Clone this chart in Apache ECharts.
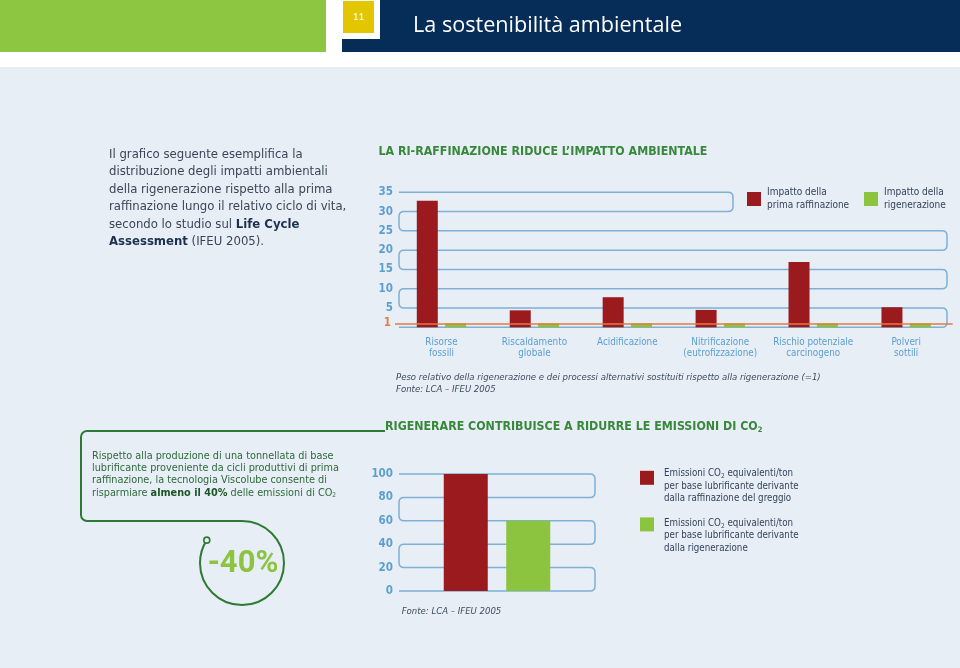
<!DOCTYPE html>
<html><head><meta charset="utf-8">
<script src="https://cdn.jsdelivr.net/npm/echarts@6/dist/echarts.min.js"></script>
<style>html,body{margin:0;padding:0;background:#fff}#c{width:960px;height:668px}</style>
</head><body><div id="c"></div>
<script>
// ---------- data ----------
const impactCategories = ['Risorse\nfossili', 'Riscaldamento\nglobale', 'Acidificazione', 'Nitrificazione\n(eutrofizzazione)', 'Rischio potenziale\ncarcinogeno', 'Polveri\nsottili'];
const impactSeriesNames = ['Impatto della\nprima raffinazione', 'Impatto della\nrigenerazione'];
const primaRaffinazione = [32.8, 4.4, 7.8, 4.5, 16.9, 5.2];
const rigenerazione = [1, 1, 1, 1, 1, 1];
const impactTicks = [0, 5, 10, 15, 20, 25, 30, 35];
const referenceLevel = 1;

const co2Category = ['Emissioni CO2'];
const co2SeriesNames = ['Emissioni CO2 equivalenti/ton\nper base lubrificante derivante\ndalla raffinazione del greggio',
                        'Emissioni CO2 equivalenti/ton\nper base lubrificante derivante\ndalla rigenerazione'];
const co2Raffinazione = [100];
const co2Rigenerazione = [60];
const co2Ticks = [0, 20, 40, 60, 80, 100];
const savingLabel = '-40%';

// ---------- styles ----------
const NARROW = "'Liberation Sans Narrow', 'DejaVu Sans Condensed', Roboto, sans-serif";
const RED = '#9b1a1e', GREEN = '#8cc43f', AXIS = '#5b9fcf', GRIDC = '#7fb0d6', ORANGE = '#e8793f';
const TITLEG = '#38883c', DARKG = '#2e7a34', TXT = '#34445a', PANEL = '#e8eef6';

function serpentine(ticks, insetL, insetR, firstRightOffset) {
  return function (params, api) {
    const cs = params.coordSys;
    const xL = cs.x + insetL, xR = cs.x + cs.width - insetR;
    const desc = ticks.slice().sort((a, b) => b - a);
    const ys = desc.map(v => api.coord([0, v])[1]);
    const r = 5;
    let d = 'M' + xL + ' ' + ys[0];
    for (let i = 0; i < ys.length - 1; i++) {
      const right = i % 2 === 0;
      const x = right ? (i === 0 ? xR - firstRightOffset : xR) : xL;
      const s = right ? 1 : -1;
      d += ' L' + (x - s * r) + ' ' + ys[i] + ' Q' + x + ' ' + ys[i] + ' ' + x + ' ' + (ys[i] + r) +
           ' L' + x + ' ' + (ys[i + 1] - r) + ' Q' + x + ' ' + ys[i + 1] + ' ' + (x - s * r) + ' ' + ys[i + 1];
    }
    const last = ys.length - 1;
    const endX = ((last - 1) % 2 === 0) ? xL : xR;
    d += ' L' + endX + ' ' + ys[last];
    return { type: 'path', shape: { pathData: d }, style: { fill: 'none', stroke: GRIDC, lineWidth: 1.5 } };
  };
}

const step1 = impactTicks[1] - impactTicks[0];
const step2 = co2Ticks[1] - co2Ticks[0];
const subRich = { sub: { fontSize: 6.5, fontFamily: NARROW, verticalAlign: 'bottom', lineHeight: 8 } };
const co2Fmt = n => n.replace('CO2', 'CO{sub|2}');

function impactLegend(name, left) {
  return { data: [name], left: left, top: 182, padding: 0, itemWidth: 14, itemHeight: 14, icon: 'rect', selectedMode: false,
    textStyle: { fontSize: 10, lineHeight: 12.5, color: TXT, fontFamily: NARROW, padding: [9, 0, 0, 1] } };
}
function co2Legend(name, top, padTop) {
  return { data: [name], orient: 'vertical', left: 640, top: top, padding: 0, itemWidth: 14, itemHeight: 14, icon: 'rect', selectedMode: false,
    formatter: co2Fmt,
    textStyle: { fontSize: 9.7, lineHeight: 12.4, color: TXT, fontFamily: NARROW, padding: [padTop, 0, 0, 5], rich: subRich } };
}

const chart = echarts.init(document.getElementById('c'));
const option = {
  animation: false,
  backgroundColor: '#ffffff',
  graphic: [
    { type: 'rect', z: -10, shape: { x: 0, y: 67, width: 960, height: 601 }, style: { fill: PANEL } },
    { type: 'rect', shape: { x: 0, y: 0, width: 326, height: 52 }, style: { fill: '#8dc641' } },
    { type: 'rect', shape: { x: 342, y: 0, width: 618, height: 52 }, style: { fill: '#062d57' } },
    { type: 'rect', shape: { x: 342, y: 0, width: 38, height: 39 }, style: { fill: '#ffffff' } },
    { type: 'rect', shape: { x: 343, y: 1, width: 31, height: 32 }, style: { fill: '#e2c600' } },
    { type: 'text', x: 358.5, y: 17, style: { text: '11', fill: '#fff', fontSize: 10, fontFamily: 'Lato', align: 'center', verticalAlign: 'middle' } },
    { type: 'text', x: 413, y: 26, style: { text: 'La sostenibilità ambientale', fill: '#fff', fontSize: 21.6, fontFamily: "'Open Sans'", align: 'left', verticalAlign: 'middle' } },
    // left paragraph
    { type: 'text', x: 109, y: 145.5, style: {
        text: 'Il grafico seguente esemplifica la\ndistribuzione degli impatti ambientali\ndella rigenerazione rispetto alla prima\nraffinazione lungo il relativo ciclo di vita,\nsecondo lo studio sul {b|Life Cycle}\n{b|Assessment} (IFEU 2005).',
        fill: '#3a4656', fontSize: 13, fontFamily: NARROW, lineHeight: 17.5, align: 'left', verticalAlign: 'top',
        rich: { b: { fontSize: 13, fontFamily: NARROW, fontWeight: 'bold', fill: '#1d3050', lineHeight: 17.5 } } } },
    // chart 1 title + footnote
    { type: 'text', x: 378.5, y: 151.7, style: { text: 'LA RI-RAFFINAZIONE RIDUCE L’IMPATTO AMBIENTALE', fill: TITLEG, fontSize: 12.3, fontWeight: 'bold', fontFamily: NARROW, align: 'left', verticalAlign: 'middle' } },
    { type: 'text', x: 396, y: 371.5, style: { text: 'Peso relativo della rigenerazione e dei processi alternativi sostituiti rispetto alla rigenerazione (=1)\nFonte: LCA – IFEU 2005', fill: '#3e4c5e', fontSize: 9.5, fontStyle: 'italic', fontFamily: NARROW, lineHeight: 11.7, align: 'left', verticalAlign: 'top' } },
    // CO2 box frame
    { type: 'line', shape: { x1: 87, y1: 431, x2: 385, y2: 431 }, style: { stroke: DARKG, lineWidth: 2 } },
    { type: 'arc', shape: { cx: 87, cy: 437, r: 6, startAngle: Math.PI, endAngle: Math.PI * 1.5, clockwise: true }, style: { stroke: DARKG, lineWidth: 2, fill: 'none' } },
    { type: 'line', shape: { x1: 81, y1: 437, x2: 81, y2: 515 }, style: { stroke: DARKG, lineWidth: 2 } },
    { type: 'arc', shape: { cx: 87, cy: 515, r: 6, startAngle: Math.PI * 0.5, endAngle: Math.PI, clockwise: true }, style: { stroke: DARKG, lineWidth: 2, fill: 'none' } },
    { type: 'line', shape: { x1: 87, y1: 521, x2: 242, y2: 521 }, style: { stroke: DARKG, lineWidth: 2 } },
    { type: 'arc', shape: { cx: 242, cy: 563, r: 42, startAngle: -Math.PI / 2, endAngle: 213 * Math.PI / 180, clockwise: true }, style: { stroke: DARKG, lineWidth: 2, fill: 'none' } },
    { type: 'circle', shape: { cx: 242 + 42 * Math.cos(213 * Math.PI / 180), cy: 563 + 42 * Math.sin(213 * Math.PI / 180), r: 3 }, style: { stroke: DARKG, lineWidth: 1.6, fill: PANEL } },
    { type: 'text', x: 243, y: 564, style: { text: savingLabel, fill: GREEN, fontSize: 31, fontWeight: 'bold', fontFamily: 'Roboto', align: 'center', verticalAlign: 'middle' } },
    { type: 'text', x: 92, y: 449.6, style: {
        text: 'Rispetto alla produzione di una tonnellata di base\nlubrificante proveniente da cicli produttivi di prima\nraffinazione, la tecnologia Viscolube consente di\nrisparmiare {b|almeno il 40%} delle emissioni di CO{sub|2}',
        fill: '#2f6a3c', fontSize: 10.8, fontFamily: NARROW, lineHeight: 12.4, align: 'left', verticalAlign: 'top',
        rich: { b: { fontSize: 10.8, fontFamily: NARROW, fontWeight: 'bold', fill: '#1c5526', lineHeight: 12.4 },
                sub: { fontSize: 6.5, fontFamily: NARROW, fill: '#2f6a3c', verticalAlign: 'bottom', lineHeight: 7 } } } },
    // chart 2 title + footnote
    { type: 'text', x: 385, y: 426.5, style: { text: 'RIGENERARE CONTRIBUISCE A RIDURRE LE EMISSIONI DI CO{sub|2}', fill: TITLEG, fontSize: 12.3, fontWeight: 'bold', fontFamily: NARROW, align: 'left', verticalAlign: 'middle', lineHeight: 16,
        rich: { sub: { fontSize: 7.5, fontWeight: 'bold', fontFamily: NARROW, fill: TITLEG, verticalAlign: 'bottom', lineHeight: 6 } } } },
    { type: 'text', x: 401.7, y: 611.7, style: { text: 'Fonte: LCA – IFEU 2005', fill: '#3e4c5e', fontSize: 9.5, fontStyle: 'italic', fontFamily: NARROW, align: 'left', verticalAlign: 'middle' } }
  ],
  legend: [
    impactLegend(impactSeriesNames[0], 747),
    impactLegend(impactSeriesNames[1], 864),
    co2Legend(co2SeriesNames[0], 450.7, 17),
    co2Legend(co2SeriesNames[1], 494.3, 23)
  ],
  grid: [
    { left: 395, right: 7.4, top: 192.3, height: 135 },
    { left: 399, width: 196, top: 474, height: 117 }
  ],
  xAxis: [
    { type: 'category', gridIndex: 0, data: impactCategories, axisLine: { show: false }, axisTick: { show: false },
      axisLabel: { interval: 0, color: AXIS, fontSize: 9.8, lineHeight: 11, margin: 9.5, fontFamily: NARROW } },
    { type: 'category', gridIndex: 1, data: co2Category, axisLine: { show: false }, axisTick: { show: false }, axisLabel: { show: false } }
  ],
  yAxis: [
    { type: 'value', gridIndex: 0, min: impactTicks[0], max: impactTicks[impactTicks.length - 1], interval: step1,
      axisLine: { show: false }, axisTick: { show: false }, splitLine: { show: false },
      axisLabel: { showMinLabel: false, color: AXIS, fontSize: 11.5, fontWeight: 'bold', fontFamily: NARROW, margin: 2 } },
    { type: 'value', gridIndex: 1, min: co2Ticks[0], max: co2Ticks[co2Ticks.length - 1], interval: step2,
      axisLine: { show: false }, axisTick: { show: false }, splitLine: { show: false },
      axisLabel: { color: AXIS, fontSize: 11.5, fontWeight: 'bold', fontFamily: NARROW, margin: 6 } }
  ],
  series: [
    { type: 'custom', xAxisIndex: 0, yAxisIndex: 0, data: [[0, 0]], silent: true, z: 1, renderItem: serpentine(impactTicks, 4, 5.6, 214) },
    { type: 'bar', name: impactSeriesNames[0], xAxisIndex: 0, yAxisIndex: 0, data: primaRaffinazione, barWidth: 21, barGap: '35%', itemStyle: { color: RED }, silent: true, z: 3 },
    { type: 'bar', name: impactSeriesNames[1], xAxisIndex: 0, yAxisIndex: 0, data: rigenerazione, barWidth: 21, barGap: '35%', itemStyle: { color: GREEN }, silent: true, z: 3,
      markLine: { silent: true, symbol: 'none', data: [{ yAxis: referenceLevel }], lineStyle: { color: ORANGE, width: 1.5, type: 'solid' },
        label: { position: 'start', formatter: String(referenceLevel), color: ORANGE, fontSize: 11.5, fontWeight: 'bold', fontFamily: NARROW, distance: 4 } } },
    { type: 'custom', xAxisIndex: 1, yAxisIndex: 1, data: [[0, 0]], silent: true, z: 1, renderItem: serpentine(co2Ticks, 0, 0, 0) },
    { type: 'bar', name: co2SeriesNames[0], xAxisIndex: 1, yAxisIndex: 1, data: co2Raffinazione, barWidth: 44, barGap: '42%', itemStyle: { color: RED }, silent: true, z: 3 },
    { type: 'bar', name: co2SeriesNames[1], xAxisIndex: 1, yAxisIndex: 1, data: co2Rigenerazione, barWidth: 44, barGap: '42%', itemStyle: { color: GREEN }, silent: true, z: 3 }
  ]
};
chart.setOption(option);
</script></body></html>
